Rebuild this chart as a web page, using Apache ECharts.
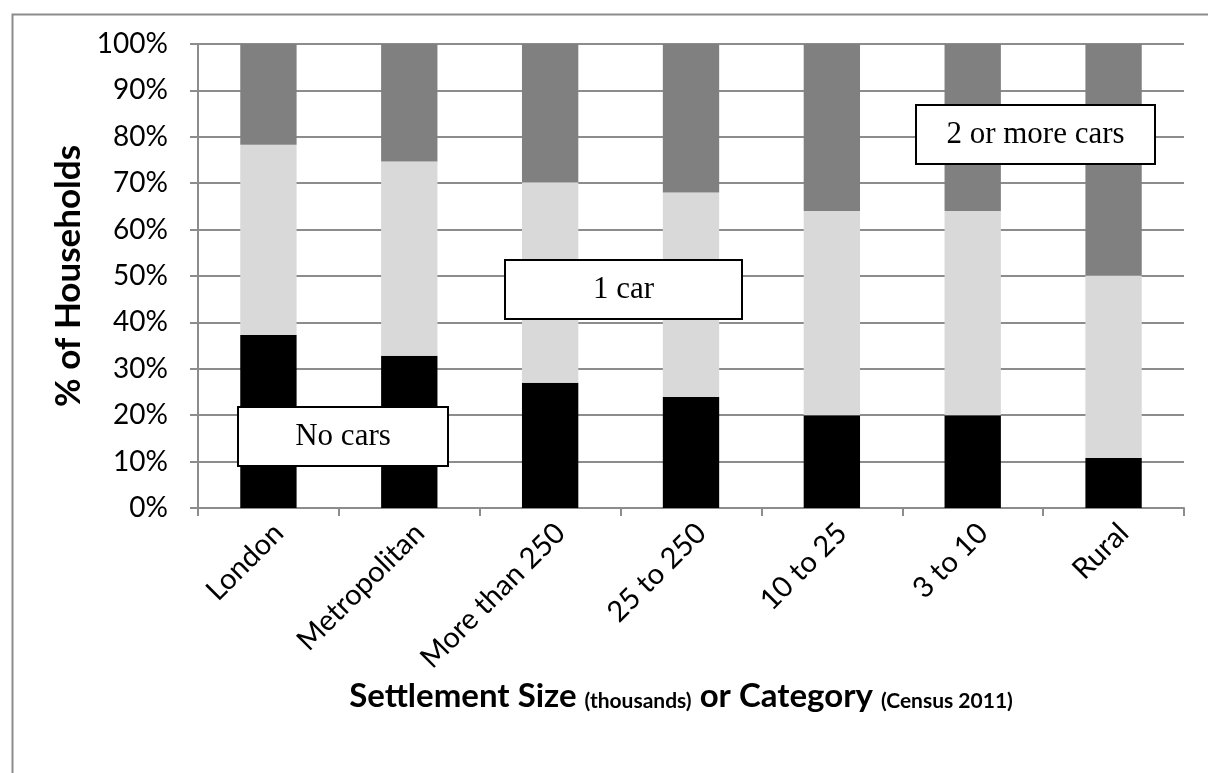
<!DOCTYPE html>
<html lang="en">

<head>
    <meta charset="UTF-8">
    <title>Car ownership by settlement size</title>
    <script src="https://cdn.jsdelivr.net/npm/echarts@6/dist/echarts.min.js"></script>
    <style>
        html, body { margin: 0; padding: 0; background: #fff; }
    </style>
</head>

<body>

    <div id='main' style="width: 1208px;height: 773px;"></div>

    <script>
        // categories and % of households per car-ownership band
        var categories = ['London', 'Metropolitan', 'More than 250', '25 to 250', '10 to 25', '3 to 10', 'Rural'];
        var noCars = [37.3, 32.8, 27.0, 23.9, 20.0, 20.0, 10.8];
        var oneCar = [41.0, 41.9, 43.2, 44.1, 44.0, 44.0, 39.3];
        var twoPlusCars = [21.7, 25.3, 29.8, 32.0, 36.0, 36.0, 49.9];
        var yTicks = [0, 10, 20, 30, 40, 50, 60, 70, 80, 90, 100];

        var myChart = echarts.init(document.getElementById('main'));

        var gridColor = '#8c8c8c';
        var serif = '"Liberation Serif", "Times New Roman", serif';
        var sans = 'Lato, "Open Sans", sans-serif';

        // boxed annotation, drawn above the bars
        function tag(text, x, y, w, h) {
            return {
                type: 'group',
                left: x,
                top: y,
                z: 100,
                children: [{
                    type: 'rect',
                    z: 100,
                    shape: { x: 0, y: 0, width: w, height: h },
                    style: { fill: '#ffffff', stroke: '#000', lineWidth: 2 }
                }, {
                    type: 'text',
                    z: 101,
                    x: w / 2,
                    y: h / 2,
                    style: {
                        text: text,
                        font: '31px ' + serif,
                        fill: '#000',
                        align: 'center',
                        verticalAlign: 'middle'
                    }
                }]
            };
        }

        function barSeries(name, data, color) {
            return {
                name: name,
                type: 'bar',
                stack: 'cars',
                barWidth: '40%',
                itemStyle: { color: color },
                data: data,
                silent: true
            };
        }

        var option = {
            animation: false,
            grid: { left: 198, right: 24, top: 44, bottom: 265 },
            xAxis: {
                type: 'category',
                data: categories,
                axisLine: { lineStyle: { color: gridColor, width: 2 } },
                axisTick: { show: true, length: 8, lineStyle: { color: gridColor, width: 2 } },
                axisLabel: {
                    rotate: 45,
                    margin: 10,
                    verticalAlign: 'top',
                    fontFamily: sans,
                    fontSize: 29,
                    color: '#000'
                },
                name: '{big|Settlement Size }{small|(thousands)}{big| or Category }{small|(Census 2011)}',
                nameLocation: 'middle',
                nameGap: 172,
                nameTextStyle: {
                    padding: [0, 20, 0, 0],
                    rich: {
                        big: { fontFamily: sans, fontSize: 33, fontWeight: 'bold', color: '#000' },
                        small: { fontFamily: sans, fontSize: 21, fontWeight: 'bold', color: '#000', padding: [8, 0, 0, 0] }
                    }
                }
            },
            yAxis: {
                type: 'value',
                min: 0,
                max: 100,
                interval: 10,
                axisLine: { show: true, lineStyle: { color: gridColor, width: 2 } },
                axisTick: { show: true, length: 8, lineStyle: { color: gridColor, width: 2 } },
                splitLine: { lineStyle: { color: gridColor, width: 2 } },
                axisLabel: {
                    margin: 30,
                    fontFamily: sans,
                    fontSize: 28,
                    color: '#000',
                    customValues: yTicks,
                    formatter: '{value}%'
                },
                name: '% of Households',
                nameLocation: 'middle',
                nameGap: 112,
                nameRotate: 90,
                nameTextStyle: { fontFamily: sans, fontSize: 35, fontWeight: 'bold', color: '#000' }
            },
            series: [
                barSeries('No cars', noCars, '#000000'),
                barSeries('1 car', oneCar, '#d9d9d9'),
                barSeries('2 or more cars', twoPlusCars, '#808080')
            ],
            graphic: [
                {
                    type: 'rect',
                    left: 10,
                    top: 12,
                    shape: { width: 1220, height: 790 },
                    style: { fill: 'none', stroke: gridColor, lineWidth: 2 },
                    silent: true
                },
                tag('No cars', 237, 406, 210, 59),
                tag('1 car', 504, 259, 237, 59),
                tag('2 or more cars', 915, 104, 239, 59)
            ]
        };

        myChart.setOption(option);
    </script>
</body>

</html>
